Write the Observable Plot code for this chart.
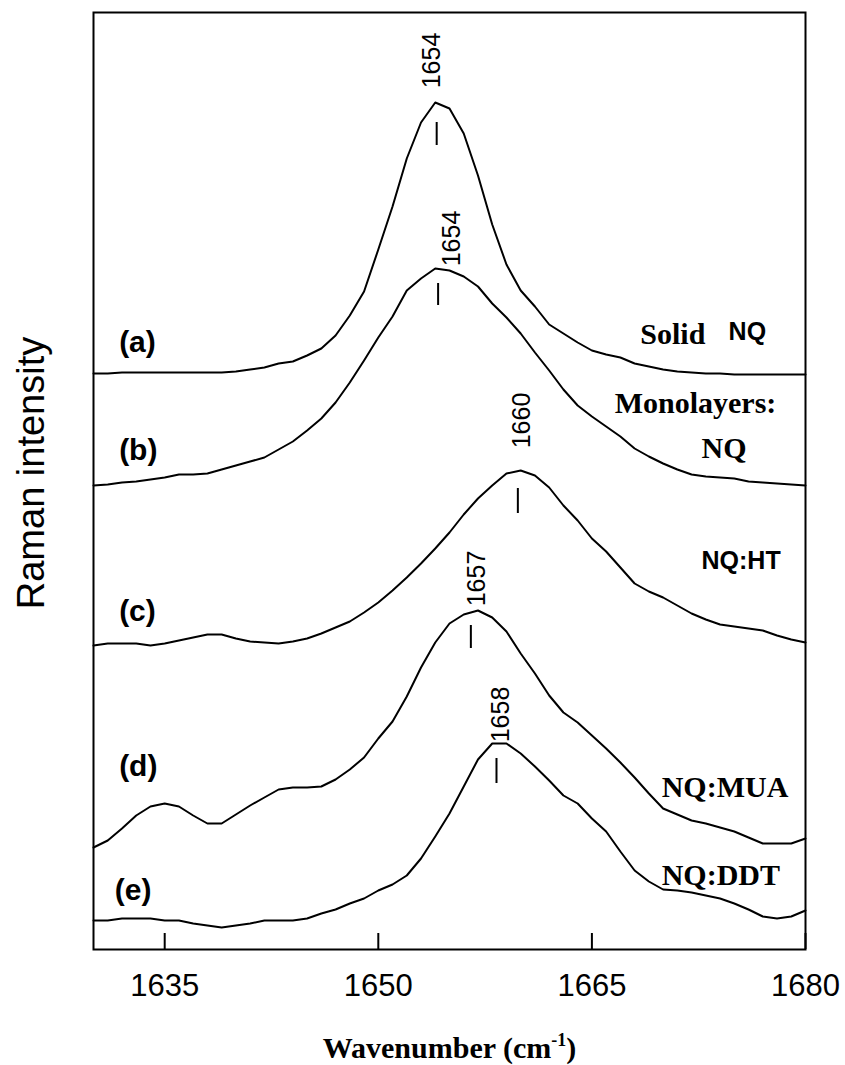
<!DOCTYPE html>
<html><head><meta charset="utf-8">
<script src="https://cdn.jsdelivr.net/npm/d3@7"></script>
<script src="https://cdn.jsdelivr.net/npm/@observablehq/plot@0.6"></script>
<style>body{margin:0;background:#fff}</style>
</head><body><div id="chart"></div>
<script>
// Wavenumber grid (cm-1)
const wavenumbers = [1630,1631,1632,1633,1634,1635,1636,1637,1638,1639,1640,1641,1642,1643,1644,1645,1646,1647,1648,1649,1650,1651,1652,1653,1654,1655,1656,1657,1658,1659,1660,1661,1662,1663,1664,1665,1666,1667,1668,1669,1670,1671,1672,1673,1674,1675,1676,1677,1678,1679,1680];
// Raman intensity (a.u., offset spectra as displayed)
const spectrumA = [576,576,577,577,577,577,577,577,577,577,578,580,582,586,588,594,601,614,634,658,700,743,791,827,847,841,816,774,725,685,659,643,625,616,607,599,595,592,586,583,580,578,577,576,576,575,575,575,575,575,575];
const spectrumB = [464,465,467,468,470,472,475,475,476,480,484,488,492,500,508,519,531,547,567,589,612,633,659,671,681,679,673,663,646,632,616,597,579,560,544,533,523,513,501,493,486,480,475,473,472,471,468,467,466,465,464];
const spectrumC = [304,306,306,306,304,306,309,312,315,315,311,308,307,306,308,311,316,322,328,337,347,359,372,386,401,417,435,451,464,476,479,474,462,444,429,411,398,382,366,358,352,344,336,330,325,323,321,319,314,310,307];
const spectrumD = [102,109,121,134,143,146,143,134,126,126,135,144,152,160,162,162,163,170,180,192,211,228,253,282,307,326,335,339,332,318,296,276,254,237,227,214,201,187,172,156,141,135,129,126,122,118,112,106,106,106,111];
const spectrumE = [29,29,31,31,31,29,29,26,24,22,24,26,29,29,29,31,36,40,46,51,59,65,74,91,113,136,163,190,206,206,196,183,169,154,146,131,118,98,79,68,60,59,57,54,51,46,40,33,31,33,39];

const seriesIds = ["a","b","c","d","e"];
const curveLabelText = ["(a)","(b)","(c)","(d)","(e)"];
const curveLabelX = [1631.8,1631.8,1631.8,1631.8,1631.5];
const curveLabelY = [598,490,329,174,50];

// Peak markers and labels
const peakText = ["1654","1654","1660","1657","1658"];
const peakMarkX = [1654.1,1654.2,1659.8,1656.5,1658.3];
const peakMarkLo = [804,644,436,301,166];
const peakMarkHi = [827,666,461,324,191];
const peakLabelX = [1653.8,1655.2,1660.1,1656.9,1658.6];
const peakLabelY = [889,711,529,371,235];

// Sample labels
const serifLabelText = ["Solid","Monolayers:","NQ","NQ:MUA","NQ:DDT"];
const serifLabelX = [1668.4,1666.6,1672.7,1669.9,1669.9];
const serifLabelY = [606,537,492,153,65];
const sansLabelText = ["NQ","NQ:HT"];
const sansLabelX = [1674.6,1672.7];
const sansLabelY = [610,381];

const xTicks = [1635,1650,1665,1680];

const spectra = [spectrumA, spectrumB, spectrumC, spectrumD, spectrumE];
const rows = [];
spectra.forEach((s, i) => s.forEach((v, j) => rows.push({w: wavenumbers[j], v, s: seriesIds[i]})));
const curveLabels = curveLabelText.map((t, i) => ({t, x: curveLabelX[i], y: curveLabelY[i]}));
const markers = peakMarkX.map((x, i) => ({x, y1: peakMarkLo[i], y2: peakMarkHi[i]}));
const peakLabels = peakText.map((t, i) => ({t, x: peakLabelX[i], y: peakLabelY[i]}));
const serifLabels = serifLabelText.map((t, i) => ({t, x: serifLabelX[i], y: serifLabelY[i]}));
const sansLabels = sansLabelText.map((t, i) => ({t, x: sansLabelX[i], y: sansLabelY[i]}));

const SANS = "Liberation Sans, Arial, sans-serif";
const SERIF = "Liberation Serif, Times New Roman, serif";

const svg = Plot.plot({
  width: 845, height: 1065,
  marginLeft: 93, marginRight: 40, marginTop: 12, marginBottom: 116,
  style: {fontFamily: SANS, color: "black", background: "white"},
  x: {domain: [1630, 1680]},
  y: {domain: [0, 937], axis: null},
  marks: [
    Plot.line(rows, {x: "w", y: "v", z: "s", stroke: "black", strokeWidth: 2}),
    Plot.ruleX(markers, {x: "x", y1: "y1", y2: "y2", stroke: "black", strokeWidth: 2}),
    Plot.text(peakLabels, {x: "x", y: "y", text: "t", rotate: -90, fontSize: 25, fontFamily: SANS, fill: "black"}),
    Plot.text(curveLabels, {x: "x", y: "y", text: "t", textAnchor: "start", lineAnchor: "bottom", fontSize: 30, fontWeight: "bold", fontFamily: SANS, fill: "black"}),
    Plot.text(serifLabels, {x: "x", y: "y", text: "t", textAnchor: "start", lineAnchor: "bottom", fontSize: 30, fontWeight: "bold", fontFamily: SERIF, fill: "black"}),
    Plot.text(sansLabels, {x: "x", y: "y", text: "t", textAnchor: "start", lineAnchor: "bottom", fontSize: 25, fontWeight: "bold", fontFamily: SANS, fill: "black"}),
    Plot.tickX(xTicks, {x: d => d, insetTop: 921, stroke: "black", strokeWidth: 2}),
    Plot.axisX({ticks: xTicks, tickSize: 0, tickPadding: 24, fontSize: 31, label: null, tickFormat: d => String(d)}),
    Plot.frame({stroke: "black", strokeWidth: 2}),
    Plot.text(["Raman intensity"], {text: d => d, frameAnchor: "left", textAnchor: "middle", rotate: -90, dx: -62, dy: -8, fontSize: 38, fontFamily: SANS, fill: "black"}),
    Plot.text(["Wavenumber (cm"], {text: d => d, frameAnchor: "bottom", textAnchor: "middle", dy: 108, lineAnchor: "bottom", fontSize: 30, fontWeight: "bold", fontFamily: SERIF, fill: "black"})
  ]
});
document.getElementById("chart").appendChild(svg);

// superscript for the axis title
const t = Array.from(svg.querySelectorAll("text")).find(e => e.textContent === "Wavenumber (cm");
if (t) {
  t.textContent = "";
  const ns = "http://www.w3.org/2000/svg";
  const a = document.createElementNS(ns, "tspan"); a.textContent = "Wavenumber (cm"; t.appendChild(a);
  const b = document.createElementNS(ns, "tspan"); b.textContent = "-1"; b.setAttribute("dy", "-12"); b.setAttribute("font-size", "18"); t.appendChild(b);
  const c = document.createElementNS(ns, "tspan"); c.textContent = ")"; c.setAttribute("dy", "12"); t.appendChild(c);
}
</script>
</body></html>
